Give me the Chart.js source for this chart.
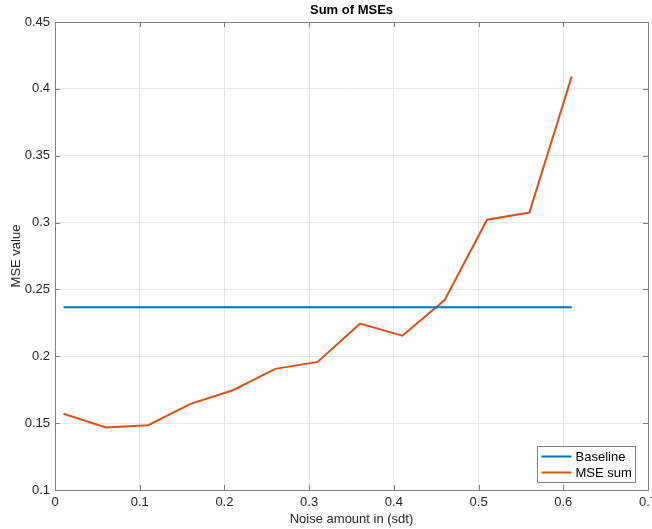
<!DOCTYPE html>
<html>
<head>
<meta charset="utf-8">
<script src="https://cdn.jsdelivr.net/npm/chart.js@4/dist/chart.umd.min.js"></script>
<style>
  html, body { margin: 0; padding: 0; background: #fff; }
  canvas { display: block; }
</style>
</head>
<body>
<canvas id="c" width="652" height="529"></canvas>
<script>
// Noise levels (sdt) and the summed MSE at each level
const noiseLevels = [0.01, 0.06, 0.11, 0.16, 0.21, 0.26, 0.31, 0.36, 0.41, 0.46, 0.51, 0.56, 0.61];
const mseSum = [0.157, 0.1468, 0.1485, 0.1644, 0.1746, 0.1906, 0.1958, 0.2244, 0.2154, 0.2421, 0.3021, 0.3075, 0.4093];
const baselineValue = 0.2366;
const baselineValues = noiseLevels.map(() => baselineValue);

const xTicks = [0, 0.1, 0.2, 0.3, 0.4, 0.5, 0.6, 0.7];
const yTicks = [0.1, 0.15, 0.2, 0.25, 0.3, 0.35, 0.4, 0.45];

const seriesNames = ['Baseline', 'MSE sum'];
const titleText = 'Sum of MSEs';
const xTitle = 'Noise amount in (sdt)';
const yTitle = 'MSE value';

const FONT = '"Liberation Sans", Helvetica, Arial, sans-serif';
const TEXT = '#262626';
const BLUE = '#0072BD';
const ORANGE = '#D95319';

const toPoints = (xs, ys) => xs.map((x, i) => ({ x: x, y: ys[i] }));

// Box, inward tick marks, title and legend drawn in MATLAB style
const axesDecor = {
  id: 'axesDecor',
  afterDraw(chart) {
    const ctx = chart.ctx;
    const a = chart.chartArea;
    const xs = chart.scales.x, ys = chart.scales.y;
    const tl = 5;
    ctx.save();
    ctx.strokeStyle = '#7f7f7f';
    ctx.lineWidth = 1;
    ctx.beginPath();
    xs.ticks.forEach(t => {
      const px = Math.round(xs.getPixelForValue(t.value)) + 0.5;
      ctx.moveTo(px, a.bottom); ctx.lineTo(px, a.bottom - tl);
      ctx.moveTo(px, a.top); ctx.lineTo(px, a.top + tl);
    });
    ys.ticks.forEach(t => {
      const py = Math.round(ys.getPixelForValue(t.value)) + 0.5;
      ctx.moveTo(a.left, py); ctx.lineTo(a.left + tl, py);
      ctx.moveTo(a.right, py); ctx.lineTo(a.right - tl, py);
    });
    ctx.stroke();
    ctx.strokeRect(Math.round(a.left) + 0.5, Math.round(a.top) + 0.5,
                   Math.round(a.right - a.left), Math.round(a.bottom - a.top));

    // title
    ctx.fillStyle = '#000';
    ctx.font = 'bold 13px ' + FONT;
    ctx.textAlign = 'center';
    ctx.textBaseline = 'middle';
    ctx.fillText(titleText, (a.left + a.right) / 2, 10);

    // legend
    const bw = 98, bh = 36;
    const bx = Math.round(a.right - 13 - bw) + 0.5;
    const by = Math.round(a.bottom - 8 - bh) + 0.5;
    ctx.fillStyle = '#fff';
    ctx.fillRect(bx, by, bw, bh);
    ctx.strokeStyle = '#7f7f7f';
    ctx.strokeRect(bx, by, bw, bh);
    ctx.font = '13px ' + FONT;
    ctx.textAlign = 'left';
    chart.data.datasets.forEach((ds, i) => {
      const cy = by + 10 + i * 16;
      ctx.strokeStyle = ds.borderColor;
      ctx.lineWidth = 2;
      ctx.beginPath();
      ctx.moveTo(bx + 4, cy); ctx.lineTo(bx + 34, cy);
      ctx.stroke();
      ctx.fillStyle = '#000';
      ctx.fillText(ds.label, bx + 38, cy + 1);
    });
    ctx.restore();
  }
};

new Chart(document.getElementById('c'), {
  type: 'line',
  data: {
    datasets: [
      { label: seriesNames[0], data: toPoints(noiseLevels, baselineValues),
        borderColor: BLUE, backgroundColor: BLUE, borderWidth: 2, pointRadius: 0, tension: 0 },
      { label: seriesNames[1], data: toPoints(noiseLevels, mseSum),
        borderColor: ORANGE, backgroundColor: ORANGE, borderWidth: 2, pointRadius: 0, tension: 0 }
    ]
  },
  options: {
    responsive: false,
    animation: false,
    devicePixelRatio: 1,
    layout: { padding: { left: 0, right: 4, top: 22, bottom: 0 } },
    plugins: { legend: { display: false }, title: { display: false }, tooltip: { enabled: false } },
    scales: {
      x: {
        type: 'linear', min: 0, max: 0.7,
        afterBuildTicks: s => { s.ticks = xTicks.map(v => ({ value: v })); },
        afterFit: s => { s.height = 39; s.paddingLeft = 0; s.paddingRight = 0; },
        grid: { color: '#e8e8e8', drawTicks: false, lineWidth: 1 },
        border: { display: false },
        ticks: { color: TEXT, font: { family: FONT, size: 13 }, padding: 5, maxRotation: 0,
                 callback: v => String(+v.toFixed(2)) },
        title: { display: true, text: xTitle, color: TEXT, font: { family: FONT, size: 13 },
                 padding: { top: 0, bottom: 2 } }
      },
      y: {
        type: 'linear', min: 0.1, max: 0.45,
        afterBuildTicks: s => { s.ticks = yTicks.map(v => ({ value: v })); },
        afterFit: s => { s.width = 55; s.paddingTop = 0; s.paddingBottom = 0; },
        grid: { color: '#e8e8e8', drawTicks: false, lineWidth: 1 },
        border: { display: false },
        ticks: { color: TEXT, font: { family: FONT, size: 13 }, padding: 5,
                 callback: v => String(+v.toFixed(2)) },
        title: { display: true, text: yTitle, color: TEXT, font: { family: FONT, size: 13 },
                 padding: { top: 9, bottom: 0 } }
      }
    }
  },
  plugins: [axesDecor]
});
</script>
</body>
</html>
